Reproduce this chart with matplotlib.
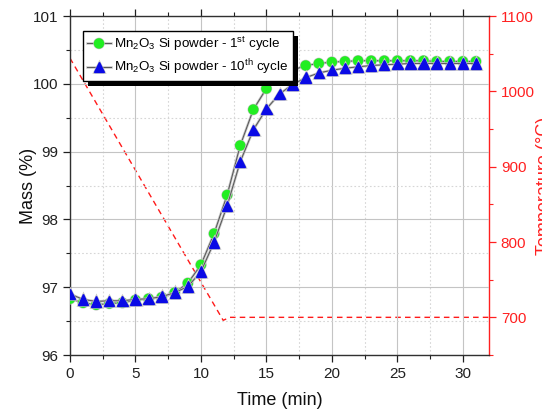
import matplotlib
matplotlib.use("Agg")
import matplotlib.pyplot as plt
import matplotlib.patheffects as pe
from matplotlib.patches import Rectangle
from matplotlib.ticker import MultipleLocator
import numpy as np

plt.rcParams['font.family'] = ['Liberation Sans', 'DejaVu Sans']
plt.rcParams['mathtext.default'] = 'regular'

time = list(range(0, 32))
mass_1st = [96.83, 96.77, 96.74, 96.76, 96.77, 96.81, 96.83, 96.85, 96.92, 97.06,
            97.33, 97.79, 98.36, 99.09, 99.62, 99.93, 100.10, 100.20, 100.27, 100.30,
            100.32, 100.33, 100.34, 100.34, 100.34, 100.34, 100.34, 100.34, 100.33, 100.33,
            100.33, 100.33]
mass_10th = [96.90, 96.82, 96.79, 96.80, 96.80, 96.82, 96.83, 96.86, 96.92, 97.01,
             97.23, 97.66, 98.20, 98.85, 99.32, 99.63, 99.85, 99.99, 100.09, 100.16,
             100.20, 100.23, 100.25, 100.27, 100.28, 100.29, 100.30, 100.30, 100.30, 100.30,
             100.30, 100.30]
temp_time = [0, 11.7, 12.2, 32]
temp_vals = [1044, 696, 700, 700]

label_1st = r'Mn$_2$O$_3$ Si powder - 1$^{st}$ cycle'
label_10th = r'Mn$_2$O$_3$ Si powder - 10$^{th}$ cycle'

fig = plt.figure(figsize=(5.42, 4.16), dpi=100)
ax = fig.add_axes([70/542, 1-355/416, 419/542, 339/416])
ax2 = ax.twinx()

ax.set_zorder(2)
ax.patch.set_visible(False)

halo = [pe.Stroke(linewidth=1.8, foreground='#c4c4c4'), pe.Normal()]
l1, = ax.plot(time, mass_1st, color='#555555', lw=0.7, marker='o', ms=6.5,
              mfc='#22ee22', mec='#22ee22', label=label_1st, path_effects=halo, zorder=3)
l2, = ax.plot(time, mass_10th, color='#555555', lw=0.7, marker='^', ms=7.5,
              mfc='#0a0ae6', mec='#0a0ae6', label=label_10th, path_effects=halo, zorder=4)

ax2.plot(temp_time, temp_vals, color='#ff1a1a', lw=1.0, ls=(0, (4, 3)))

ax.set_xlim(0, 32)
ax.set_ylim(96, 101)
ax2.set_ylim(650, 1100)

ax.xaxis.set_major_locator(MultipleLocator(5))
ax.xaxis.set_minor_locator(MultipleLocator(2.5))
ax.yaxis.set_major_locator(MultipleLocator(1))
ax.yaxis.set_minor_locator(MultipleLocator(0.5))
ax2.yaxis.set_minor_locator(MultipleLocator(50))
ax2.set_yticks([700, 800, 900, 1000, 1100])

ax.grid(True, which='major', color='#c4c4c4', lw=0.8, ls='-')
ax.grid(True, which='minor', color='#d6d6d6', lw=0.8, ls=(0, (1.5, 2)))
ax.set_axisbelow(True)

ax.tick_params(which='major', direction='out', length=5, width=0.9, labelsize=11,
               colors='#202020', top=True, right=False)
ax.tick_params(which='minor', direction='out', length=3, width=0.8, top=True, right=False,
               colors='#202020')
ax2.tick_params(which='major', direction='out', length=5, width=0.9, labelsize=11,
                colors='#ff2020')
ax2.tick_params(which='minor', direction='out', length=3, width=0.8, colors='#ff2020')

for s in ['left', 'bottom', 'top']:
    ax.spines[s].set_color('#303030')
    ax.spines[s].set_linewidth(1.0)
ax.spines['right'].set_visible(False)
ax2.spines['right'].set_color('#ff2020')
ax2.spines['right'].set_linewidth(1.0)
for s in ['left', 'bottom', 'top']:
    ax2.spines[s].set_visible(False)

ax.set_xlabel('Time (min)', fontsize=13, color='#101010', labelpad=8)
ax.set_ylabel('Mass (%)', fontsize=13, color='#101010', labelpad=-3)
ax2.set_ylabel('Temperature (°C)', fontsize=13, color='#ff2020')
ax2.yaxis.set_label_coords(1.112, 0.5)

leg = ax.legend(handles=[l1, l2], loc='upper left', bbox_to_anchor=(0.031, 0.956),
                fontsize=9.6, frameon=True, fancybox=False, edgecolor='black',
                framealpha=1, borderpad=0.3, handlelength=1.8, handletextpad=0.25,
                labelspacing=0.35, borderaxespad=0)
leg.get_frame().set_linewidth(1.0)
leg.set_zorder(10)

fig.canvas.draw()
bb = leg.get_window_extent()
shadow = Rectangle((bb.x0 + 5, bb.y0 - 5), bb.width, bb.height, transform=None,
                   facecolor='black', edgecolor='none', zorder=9)
ax.add_artist(shadow)

fig.savefig('out.png', dpi=100)
